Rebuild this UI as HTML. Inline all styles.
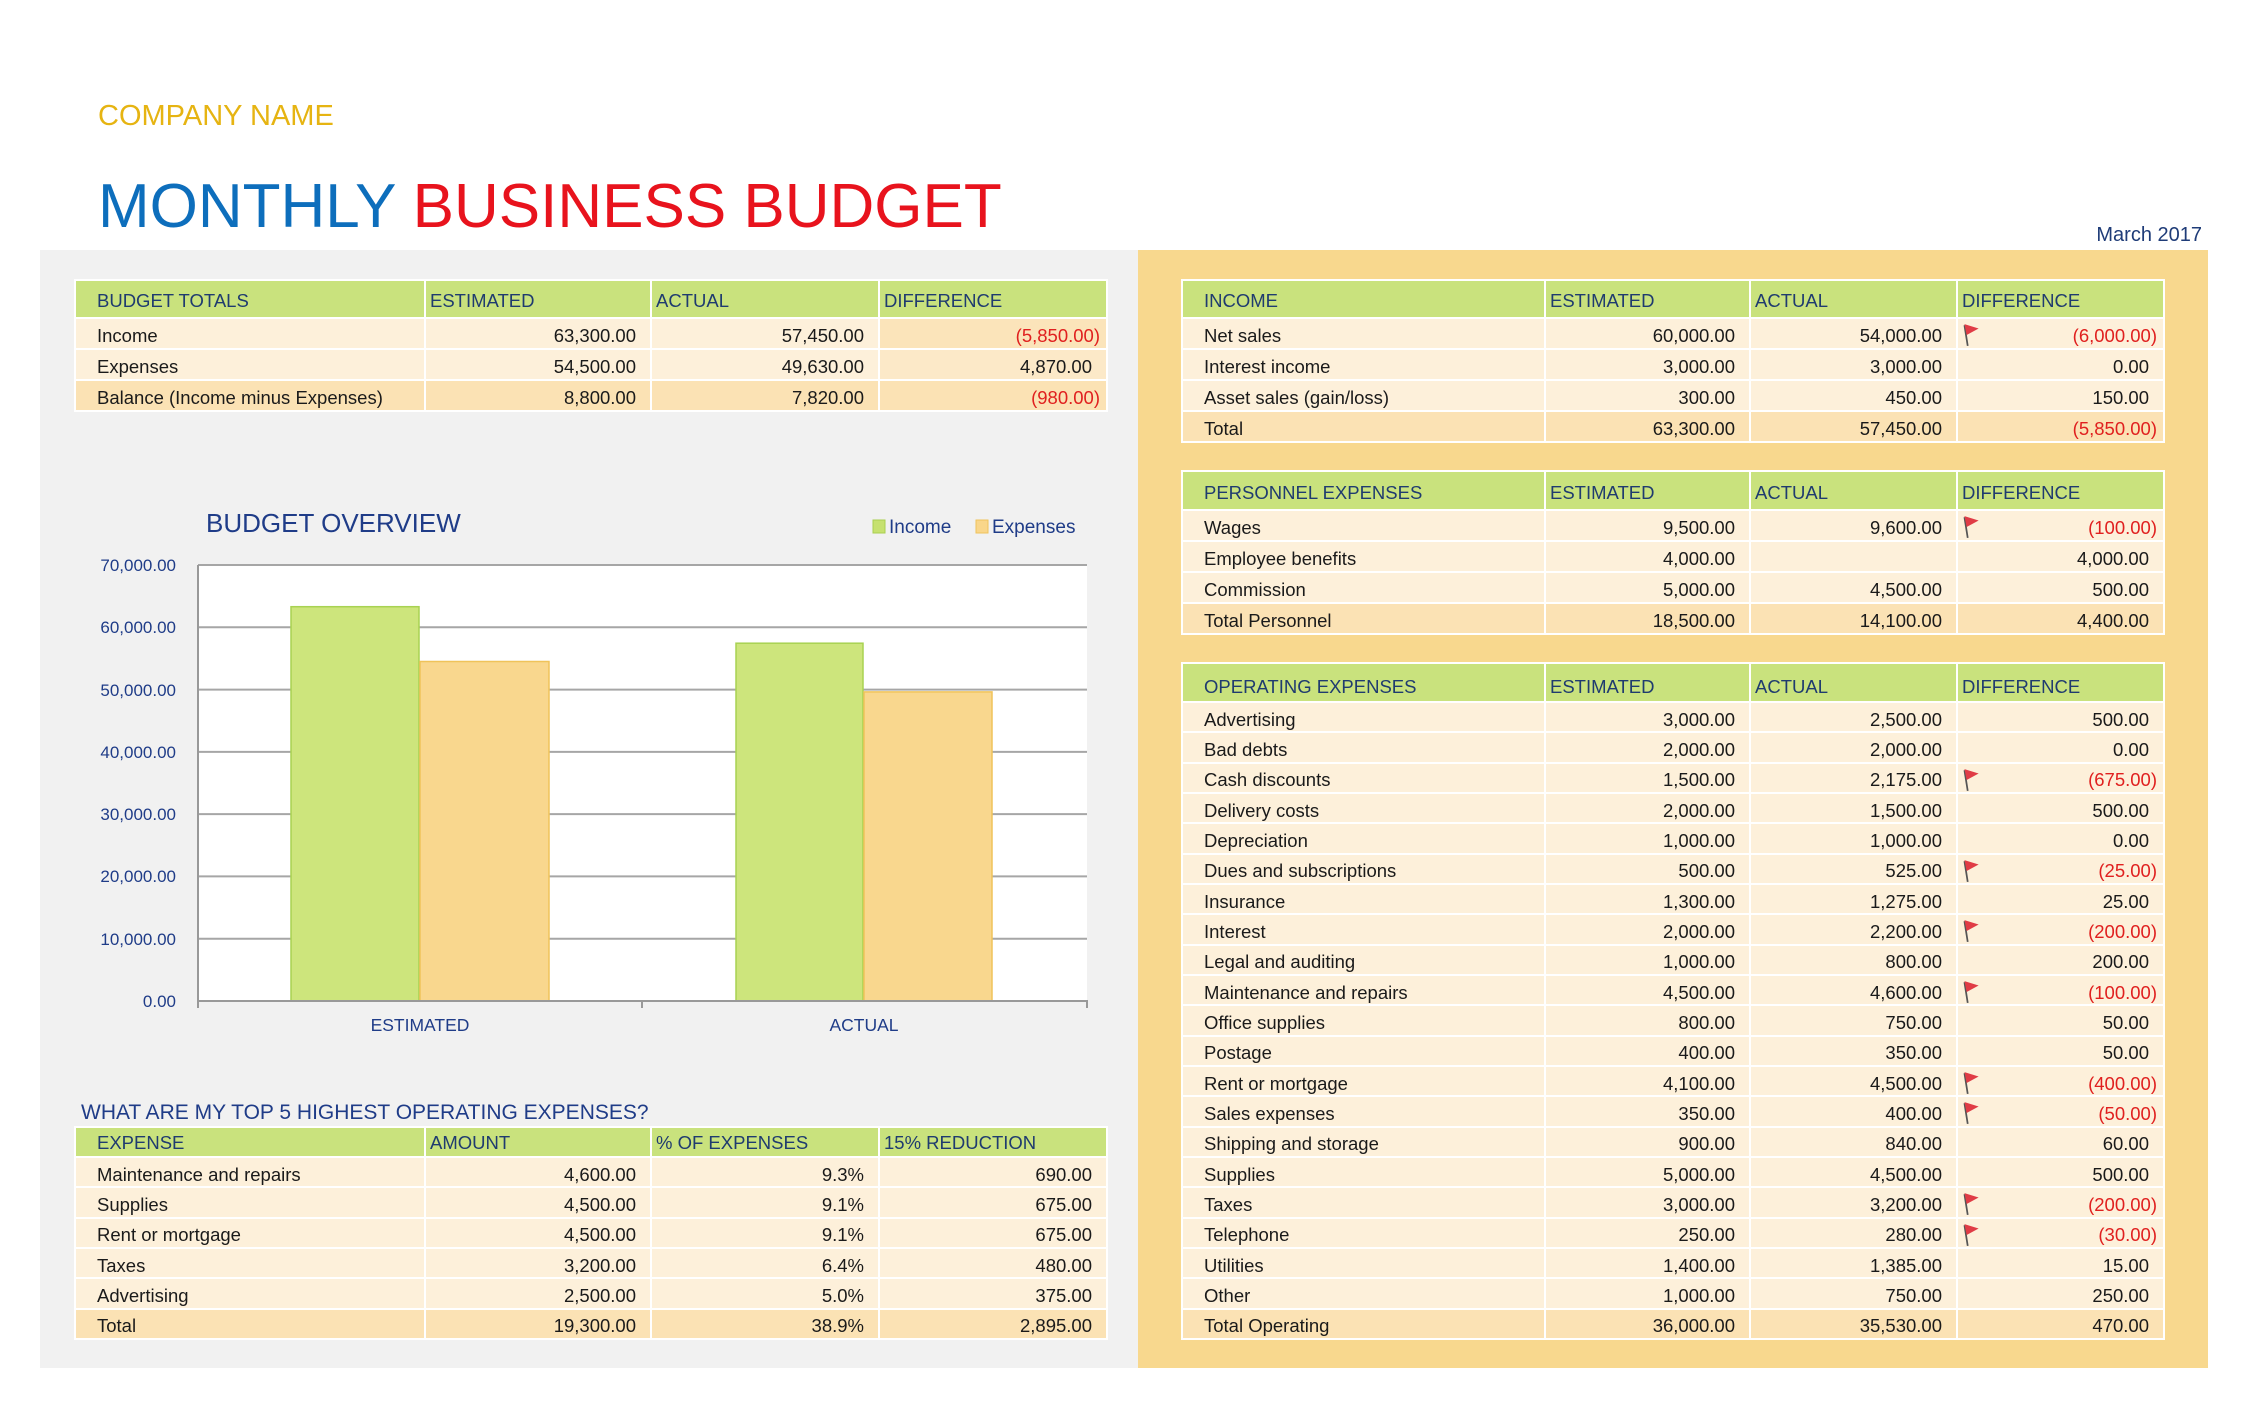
<!DOCTYPE html>
<html>
<head>
<meta charset="utf-8">
<style>
*{margin:0;padding:0;box-sizing:border-box}
html,body{width:2250px;height:1419px;background:#fff;overflow:hidden;position:relative;font-family:"Liberation Sans",sans-serif}
.abs{position:absolute}
.t{position:absolute;display:grid;gap:2px;padding:2px;background:#fff;font-size:18.5px;color:#1a1a1a}
.t>div{background:#fdf0da;display:flex;align-items:center;white-space:nowrap;position:relative;padding-top:5px}
.t>div.h{background:#c9e27d;color:#1f3b6f;align-items:flex-end;padding-bottom:5px;padding-top:0}
.l{padding-left:21px}
.t>div.h.c{padding-left:4px}
.n{justify-content:flex-end;padding-right:14px}
.t>div.neg{color:#e0201f;padding-right:6px}
.t>div.tot{background:#fbe2b4}
.t>div.pk{background:#fbe4ba}
.fl{position:absolute;left:3px;top:4px;width:20px;height:24px}
</style>
</head>
<body>
<div class="abs" style="left:98px;top:100px;font-size:29px;color:#e6b412;white-space:nowrap">COMPANY NAME</div>
<div class="abs" style="left:98px;top:171px;font-size:62px;white-space:nowrap;line-height:72px"><span style="color:#0d6ebc">MONTHLY</span> <span style="color:#e8131d">BUSINESS BUDGET</span></div>
<div class="abs" style="right:48px;top:224px;font-size:20px;color:#1f3c78;white-space:nowrap">March 2017</div>

<div class="abs" style="left:40px;top:250px;width:1099px;height:1118px;background:#f1f1f1"></div>
<div class="abs" style="left:1138px;top:250px;width:1070px;height:1118px;background:#f8d88e"></div>

<!-- BUDGET TOTALS -->
<div class="t" style="left:74px;top:279px;grid-template-columns:348px 224px 226px 226px;grid-template-rows:36px 29px 29px 29px">
<div class="h l">BUDGET TOTALS</div><div class="h c">ESTIMATED</div><div class="h c">ACTUAL</div><div class="h c">DIFFERENCE</div>
<div class="l">Income</div><div class="n">63,300.00</div><div class="n">57,450.00</div><div class="n neg pk">(5,850.00)</div>
<div class="l">Expenses</div><div class="n">54,500.00</div><div class="n">49,630.00</div><div class="n pk" style="background:#fce9c8">4,870.00</div>
<div class="l tot">Balance (Income minus Expenses)</div><div class="n tot">8,800.00</div><div class="n tot">7,820.00</div><div class="n neg tot">(980.00)</div>
</div>

<!-- INCOME -->
<div class="t" style="left:1181px;top:279px;grid-template-columns:361px 203px 205px 205px;grid-template-rows:36px 29px 29px 29px 29px">
<div class="h l">INCOME</div><div class="h c">ESTIMATED</div><div class="h c">ACTUAL</div><div class="h c">DIFFERENCE</div>
<div class="l">Net sales</div><div class="n">60,000.00</div><div class="n">54,000.00</div><div class="n neg"><svg class="fl" viewBox="0 0 18 22"><line x1="3" y1="2" x2="6" y2="21" stroke="#555" stroke-width="1.6"/><polygon points="3,1 16,5 5,11" fill="#e03c46"/></svg>(6,000.00)</div>
<div class="l">Interest income</div><div class="n">3,000.00</div><div class="n">3,000.00</div><div class="n">0.00</div>
<div class="l">Asset sales (gain/loss)</div><div class="n">300.00</div><div class="n">450.00</div><div class="n">150.00</div>
<div class="l tot">Total</div><div class="n tot">63,300.00</div><div class="n tot">57,450.00</div><div class="n neg tot">(5,850.00)</div>
</div>

<!-- PERSONNEL -->
<div class="t" style="left:1181px;top:470px;grid-template-columns:361px 203px 205px 205px;grid-template-rows:37px 29px 29px 29px 29px">
<div class="h l">PERSONNEL EXPENSES</div><div class="h c">ESTIMATED</div><div class="h c">ACTUAL</div><div class="h c">DIFFERENCE</div>
<div class="l">Wages</div><div class="n">9,500.00</div><div class="n">9,600.00</div><div class="n neg"><svg class="fl" viewBox="0 0 18 22"><line x1="3" y1="2" x2="6" y2="21" stroke="#555" stroke-width="1.6"/><polygon points="3,1 16,5 5,11" fill="#e03c46"/></svg>(100.00)</div>
<div class="l">Employee benefits</div><div class="n">4,000.00</div><div class="n"></div><div class="n">4,000.00</div>
<div class="l">Commission</div><div class="n">5,000.00</div><div class="n">4,500.00</div><div class="n">500.00</div>
<div class="l tot">Total Personnel</div><div class="n tot">18,500.00</div><div class="n tot">14,100.00</div><div class="n tot">4,400.00</div>
</div>

<!-- OPERATING -->
<div class="t" style="left:1181px;top:662px;grid-template-columns:361px 203px 205px 205px;grid-template-rows:37px repeat(21,28.33px)">
<div class="h l" style="padding-bottom:3px">OPERATING EXPENSES</div><div class="h c" style="padding-bottom:3px">ESTIMATED</div><div class="h c" style="padding-bottom:3px">ACTUAL</div><div class="h c" style="padding-bottom:3px">DIFFERENCE</div>
<div class="l">Advertising</div><div class="n">3,000.00</div><div class="n">2,500.00</div><div class="n">500.00</div>
<div class="l">Bad debts</div><div class="n">2,000.00</div><div class="n">2,000.00</div><div class="n">0.00</div>
<div class="l">Cash discounts</div><div class="n">1,500.00</div><div class="n">2,175.00</div><div class="n neg"><svg class="fl" viewBox="0 0 18 22"><line x1="3" y1="2" x2="6" y2="21" stroke="#555" stroke-width="1.6"/><polygon points="3,1 16,5 5,11" fill="#e03c46"/></svg>(675.00)</div>
<div class="l">Delivery costs</div><div class="n">2,000.00</div><div class="n">1,500.00</div><div class="n">500.00</div>
<div class="l">Depreciation</div><div class="n">1,000.00</div><div class="n">1,000.00</div><div class="n">0.00</div>
<div class="l">Dues and subscriptions</div><div class="n">500.00</div><div class="n">525.00</div><div class="n neg"><svg class="fl" viewBox="0 0 18 22"><line x1="3" y1="2" x2="6" y2="21" stroke="#555" stroke-width="1.6"/><polygon points="3,1 16,5 5,11" fill="#e03c46"/></svg>(25.00)</div>
<div class="l">Insurance</div><div class="n">1,300.00</div><div class="n">1,275.00</div><div class="n">25.00</div>
<div class="l">Interest</div><div class="n">2,000.00</div><div class="n">2,200.00</div><div class="n neg"><svg class="fl" viewBox="0 0 18 22"><line x1="3" y1="2" x2="6" y2="21" stroke="#555" stroke-width="1.6"/><polygon points="3,1 16,5 5,11" fill="#e03c46"/></svg>(200.00)</div>
<div class="l">Legal and auditing</div><div class="n">1,000.00</div><div class="n">800.00</div><div class="n">200.00</div>
<div class="l">Maintenance and repairs</div><div class="n">4,500.00</div><div class="n">4,600.00</div><div class="n neg"><svg class="fl" viewBox="0 0 18 22"><line x1="3" y1="2" x2="6" y2="21" stroke="#555" stroke-width="1.6"/><polygon points="3,1 16,5 5,11" fill="#e03c46"/></svg>(100.00)</div>
<div class="l">Office supplies</div><div class="n">800.00</div><div class="n">750.00</div><div class="n">50.00</div>
<div class="l">Postage</div><div class="n">400.00</div><div class="n">350.00</div><div class="n">50.00</div>
<div class="l">Rent or mortgage</div><div class="n">4,100.00</div><div class="n">4,500.00</div><div class="n neg"><svg class="fl" viewBox="0 0 18 22"><line x1="3" y1="2" x2="6" y2="21" stroke="#555" stroke-width="1.6"/><polygon points="3,1 16,5 5,11" fill="#e03c46"/></svg>(400.00)</div>
<div class="l">Sales expenses</div><div class="n">350.00</div><div class="n">400.00</div><div class="n neg"><svg class="fl" viewBox="0 0 18 22"><line x1="3" y1="2" x2="6" y2="21" stroke="#555" stroke-width="1.6"/><polygon points="3,1 16,5 5,11" fill="#e03c46"/></svg>(50.00)</div>
<div class="l">Shipping and storage</div><div class="n">900.00</div><div class="n">840.00</div><div class="n">60.00</div>
<div class="l">Supplies</div><div class="n">5,000.00</div><div class="n">4,500.00</div><div class="n">500.00</div>
<div class="l">Taxes</div><div class="n">3,000.00</div><div class="n">3,200.00</div><div class="n neg"><svg class="fl" viewBox="0 0 18 22"><line x1="3" y1="2" x2="6" y2="21" stroke="#555" stroke-width="1.6"/><polygon points="3,1 16,5 5,11" fill="#e03c46"/></svg>(200.00)</div>
<div class="l">Telephone</div><div class="n">250.00</div><div class="n">280.00</div><div class="n neg"><svg class="fl" viewBox="0 0 18 22"><line x1="3" y1="2" x2="6" y2="21" stroke="#555" stroke-width="1.6"/><polygon points="3,1 16,5 5,11" fill="#e03c46"/></svg>(30.00)</div>
<div class="l">Utilities</div><div class="n">1,400.00</div><div class="n">1,385.00</div><div class="n">15.00</div>
<div class="l">Other</div><div class="n">1,000.00</div><div class="n">750.00</div><div class="n">250.00</div>
<div class="l tot">Total Operating</div><div class="n tot">36,000.00</div><div class="n tot">35,530.00</div><div class="n tot">470.00</div>
</div>

<!-- TOP 5 -->
<div class="abs" style="left:81px;top:1101px;font-size:21px;color:#1f3c88;white-space:nowrap">WHAT ARE MY TOP 5 HIGHEST OPERATING EXPENSES?</div>
<div class="t" style="left:74px;top:1126px;grid-template-columns:348px 224px 226px 226px;grid-template-rows:28px repeat(6,28.33px)">
<div class="h l" style="padding-bottom:2px">EXPENSE</div><div class="h c" style="padding-bottom:2px">AMOUNT</div><div class="h c" style="padding-bottom:2px">% OF EXPENSES</div><div class="h c" style="padding-bottom:2px">15% REDUCTION</div>
<div class="l">Maintenance and repairs</div><div class="n">4,600.00</div><div class="n">9.3%</div><div class="n">690.00</div>
<div class="l">Supplies</div><div class="n">4,500.00</div><div class="n">9.1%</div><div class="n">675.00</div>
<div class="l">Rent or mortgage</div><div class="n">4,500.00</div><div class="n">9.1%</div><div class="n">675.00</div>
<div class="l">Taxes</div><div class="n">3,200.00</div><div class="n">6.4%</div><div class="n">480.00</div>
<div class="l">Advertising</div><div class="n">2,500.00</div><div class="n">5.0%</div><div class="n">375.00</div>
<div class="l tot">Total</div><div class="n tot">19,300.00</div><div class="n tot">38.9%</div><div class="n tot">2,895.00</div>
</div>

<!-- CHART -->
<svg class="abs" style="left:0;top:0" width="2250" height="1419" viewBox="0 0 2250 1419" font-family="Liberation Sans, sans-serif">
<text x="206" y="532" font-size="26" fill="#1f3c88">BUDGET OVERVIEW</text>
<rect x="873" y="520" width="12" height="13" fill="#c6e16f" stroke="#a9cf4f" stroke-width="1"/>
<text x="889" y="533" font-size="19" fill="#1f3c88">Income</text>
<rect x="976" y="520" width="12" height="13" fill="#f9d68a" stroke="#efc35c" stroke-width="1"/>
<text x="992" y="533" font-size="19" fill="#1f3c88">Expenses</text>
<rect x="198" y="565" width="889" height="436" fill="#ffffff"/>
<g stroke="#a6a6a6" stroke-width="2">
<line x1="198" y1="565" x2="1087" y2="565"/>
<line x1="198" y1="627.3" x2="1087" y2="627.3"/>
<line x1="198" y1="689.6" x2="1087" y2="689.6"/>
<line x1="198" y1="751.9" x2="1087" y2="751.9"/>
<line x1="198" y1="814.1" x2="1087" y2="814.1"/>
<line x1="198" y1="876.4" x2="1087" y2="876.4"/>
<line x1="198" y1="938.7" x2="1087" y2="938.7"/>
</g>
<g stroke-width="1.5">
<rect x="291" y="606.7" width="128" height="394.3" fill="#cde57c" stroke="#a8d252"/>
<rect x="420" y="661.5" width="129" height="339.5" fill="#f9d78e" stroke="#f0c35a"/>
<rect x="736" y="643.2" width="127" height="357.8" fill="#cde57c" stroke="#a8d252"/>
<rect x="864" y="691.9" width="128" height="309.1" fill="#f9d78e" stroke="#f0c35a"/>
</g>
<g stroke="#999" stroke-width="2">
<line x1="198" y1="565" x2="198" y2="1008"/>
<line x1="197" y1="1001" x2="1088" y2="1001"/>
<line x1="642" y1="1001" x2="642" y2="1008"/>
<line x1="1087" y1="1001" x2="1087" y2="1008"/>
</g>
<g font-size="17" fill="#1f3c88" text-anchor="end">
<text x="176" y="571">70,000.00</text>
<text x="176" y="633">60,000.00</text>
<text x="176" y="696">50,000.00</text>
<text x="176" y="758">40,000.00</text>
<text x="176" y="820">30,000.00</text>
<text x="176" y="882">20,000.00</text>
<text x="176" y="945">10,000.00</text>
<text x="176" y="1007">0.00</text>
</g>
<g font-size="17.5" fill="#1f3c88" text-anchor="middle">
<text x="420" y="1031">ESTIMATED</text>
<text x="864" y="1031">ACTUAL</text>
</g>
</svg>
</body>
</html>
